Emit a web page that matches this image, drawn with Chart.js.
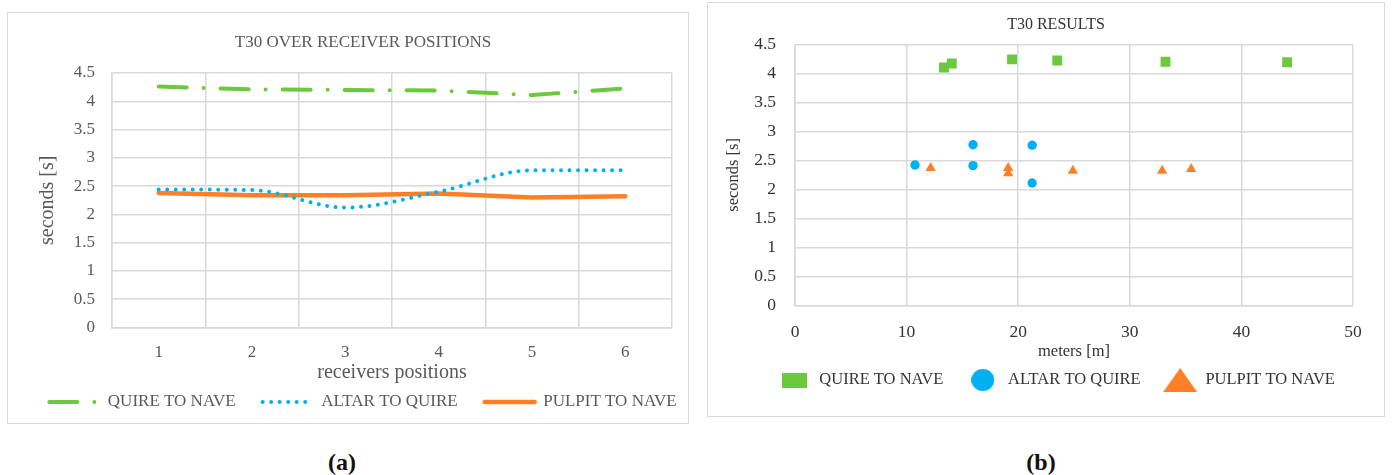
<!DOCTYPE html>
<html lang="en">
<head>
<meta charset="UTF-8">
<title>T30 over receiver positions / T30 results</title>
<script src="https://cdn.jsdelivr.net/npm/chart.js@4"></script>
<style>
  body { margin: 0; background: #fff; width: 1392px; height: 475px; position: relative; overflow: hidden; font-family: "Liberation Serif", serif; }
  .frame { position: absolute; border: 1.5px solid #d9d9d9; box-sizing: border-box; }
  canvas { position: absolute; }
  .cap { position: absolute; font-weight: bold; font-size: 24px; line-height: 28px; transform: translateX(-50%); color: #111; }
</style>
</head>
<body>
<div class="frame" style="left:7px;top:12px;width:682px;height:412px"></div>
<div class="frame" style="left:707px;top:2px;width:678px;height:415px"></div>
<canvas id="chartA" width="708" height="412" style="left:0px;top:12px"></canvas>
<canvas id="chartB" width="678" height="415" style="left:707px;top:2px"></canvas>
<div class="cap" style="left:342px;top:448px">(a)</div>
<div class="cap" style="left:1041px;top:448px">(b)</div>

<script>
  // (a) T30 per receiver position
  const positions = ['1', '2', '3', '4', '5', '6'];
  const quireToNave = [4.26, 4.21, 4.20, 4.19, 4.11, 4.23];
  const altarToQuire = [2.44, 2.43, 2.12, 2.40, 2.78, 2.78];
  const pulpitToNave = [2.38, 2.34, 2.34, 2.37, 2.30, 2.32];

  // (b) T30 against source-receiver distance
  const quireDist = [13.35, 14.05, 19.45, 23.5, 33.2, 44.1];
  const quireT30 = [4.10, 4.17, 4.24, 4.22, 4.20, 4.19];
  const altarDist = [10.75, 15.95, 15.95, 21.25, 21.25];
  const altarT30 = [2.42, 2.77, 2.41, 2.76, 2.11];
  const pulpitDist = [12.15, 19.1, 19.1, 24.9, 32.9, 35.5];
  const pulpitT30 = [2.37, 2.37, 2.28, 2.32, 2.32, 2.35];

  const seriesNames = ['QUIRE TO NAVE', 'ALTAR TO QUIRE', 'PULPIT TO NAVE'];

  const GREEN = '#6cc83c';
  const BLUE = '#00b0f0';
  const ORANGE = '#ff7f27';
  const GRID = '#d9d9d9';
  const FONT = "'Liberation Serif', 'Times New Roman', serif";

  Chart.defaults.font.family = FONT;

  function gridOpts() {
    return { color: GRID, lineWidth: 1.5, drawTicks: false };
  }

  // "4" not "4.0", like the original
  const plainNum = v => String(+Number(v).toFixed(1));

  // spacer axis on the right so the title/legend can be wider than the plot
  function spacer(w) {
    return {
      position: 'right',
      grid: { drawOnChartArea: false, drawTicks: false },
      border: { display: false },
      ticks: { display: false },
      afterFit: s => { s.width = w; }
    };
  }

  // ---------- chart (a) ----------
  new Chart(document.getElementById('chartA'), {
    type: 'line',
    data: {
      labels: positions,
      datasets: [
        {
          label: seriesNames[0],
          data: quireToNave,
          borderColor: GREEN,
          backgroundColor: GREEN,
          borderWidth: 4,
          borderDash: [28, 17, 0.01, 17],
          borderCapStyle: 'round',
          pointRadius: 0
        },
        {
          label: seriesNames[1],
          data: altarToQuire,
          borderColor: BLUE,
          backgroundColor: BLUE,
          borderWidth: 4,
          borderDash: [0.01, 8.5],
          borderCapStyle: 'round',
          cubicInterpolationMode: 'monotone',
          pointRadius: 0
        },
        {
          label: seriesNames[2],
          data: pulpitToNave,
          borderColor: ORANGE,
          backgroundColor: ORANGE,
          borderWidth: 4.5,
          borderCapStyle: 'round',
          pointRadius: 0
        }
      ]
    },
    options: {
      responsive: false,
      animation: false,
      events: [],
      layout: { padding: { left: 18, right: 0, top: 0, bottom: 3.5 } },
      plugins: {
        title: {
          display: true,
          text: 'T30 OVER RECEIVER POSITIONS',
          color: '#595959',
          font: { size: 17, weight: 'normal', lineHeight: 1.2 },
          padding: { top: 20.8, bottom: 19.8 }
        },
        legend: {
          position: 'bottom',
          labels: {
            usePointStyle: true,
            pointStyle: 'line',
            pointStyleWidth: 50,
            padding: 27,
            color: '#595959',
            font: { size: 17 },
            generateLabels(chart) {
              const items = Chart.defaults.plugins.legend.labels.generateLabels(chart);
              items.forEach((it, i) => {
                const ds = chart.data.datasets[i];
                it.lineDash = ds.borderDash || [];
                it.lineWidth = ds.borderWidth;
                it.lineCap = ds.borderCapStyle;
                it.strokeStyle = ds.borderColor;
              });
              return items;
            }
          }
        },
        tooltip: { enabled: false }
      },
      scales: {
        x: {
          offset: true,
          grid: Object.assign(gridOpts(), { offset: true }),
          border: { color: GRID, width: 1.5 },
          ticks: { color: '#595959', font: { size: 17 }, padding: 15 },
          title: {
            display: true,
            text: 'receivers positions',
            color: '#595959',
            font: { size: 20, lineHeight: 1 },
            padding: { top: 0, bottom: -16.5 }
          },
          afterFit: s => { s.height = 39; }
        },
        y: {
          min: 0,
          max: 4.5,
          grid: gridOpts(),
          border: { color: GRID, width: 1.5 },
          ticks: { stepSize: 0.5, color: '#595959', font: { size: 17 }, padding: 17, callback: plainNum },
          title: {
            display: true,
            text: 'seconds [s]',
            color: '#595959',
            font: { size: 20, lineHeight: 1 },
            padding: { top: 20, bottom: 0 }
          },
          afterFit: s => { s.width = 94; }
        },
        y2: spacer(36)
      }
    }
  });

  // ---------- chart (b) ----------
  function legendIcon(shape, color, w, h) {
    const c = document.createElement('canvas');
    c.width = w;
    c.height = h;
    const g = c.getContext('2d');
    g.fillStyle = color;
    g.beginPath();
    if (shape === 'rect') {
      g.rect(0, 0, w, h);
    } else if (shape === 'circle') {
      g.ellipse(w / 2, h / 2, w / 2, h / 2, 0, 0, Math.PI * 2);
    } else {
      g.moveTo(w / 2, 0);
      g.lineTo(w, h);
      g.lineTo(0, h);
      g.closePath();
    }
    g.fill();
    return c;
  }
  const icons = [
    legendIcon('rect', GREEN, 25, 15),
    legendIcon('circle', BLUE, 23, 22),
    legendIcon('triangle', ORANGE, 34, 24)
  ];

  const toPoints = (xs, ys) => xs.map((x, i) => ({ x: x, y: ys[i] }));

  new Chart(document.getElementById('chartB'), {
    type: 'scatter',
    data: {
      datasets: [
        {
          label: seriesNames[0],
          data: toPoints(quireDist, quireT30),
          pointStyle: 'rect',
          pointRadius: 7,
          backgroundColor: GREEN,
          borderColor: GREEN,
          borderWidth: 0
        },
        {
          label: seriesNames[1],
          data: toPoints(altarDist, altarT30),
          pointStyle: 'circle',
          pointRadius: 4.7,
          backgroundColor: BLUE,
          borderColor: BLUE,
          borderWidth: 0
        },
        {
          label: seriesNames[2],
          data: toPoints(pulpitDist, pulpitT30),
          pointStyle: 'triangle',
          pointRadius: 6,
          backgroundColor: ORANGE,
          borderColor: ORANGE,
          borderWidth: 0
        }
      ]
    },
    options: {
      responsive: false,
      animation: false,
      events: [],
      layout: { padding: { left: 29, right: 9, top: 0, bottom: 18.75 } },
      plugins: {
        title: {
          display: true,
          text: 'T30 RESULTS',
          color: '#333',
          font: { size: 16, weight: 'normal', lineHeight: 1.2 },
          padding: { top: 13.4, bottom: 9.7 }
        },
        legend: {
          position: 'bottom',
          labels: {
            usePointStyle: true,
            pointStyleWidth: 34,
            padding: 22.5,
            color: '#333',
            font: { size: 16.5 },
            generateLabels(chart) {
              const items = Chart.defaults.plugins.legend.labels.generateLabels(chart);
              items.forEach((it, i) => { it.pointStyle = icons[i]; });
              return items;
            }
          }
        },
        tooltip: { enabled: false }
      },
      scales: {
        x: {
          type: 'linear',
          min: 0,
          max: 50,
          grid: gridOpts(),
          border: { color: GRID, width: 1.5 },
          ticks: { stepSize: 10, color: '#333', font: { size: 17.5 }, padding: 16.3 },
          title: {
            display: true,
            text: 'meters [m]',
            color: '#333',
            font: { size: 16.5, lineHeight: 1 },
            padding: { top: 0, bottom: -11 }
          },
          afterFit: s => { s.height = 43.75; }
        },
        y: {
          min: 0,
          max: 4.5,
          grid: gridOpts(),
          border: { color: GRID, width: 1.5 },
          ticks: { stepSize: 0.5, color: '#333', font: { size: 17.5 }, padding: 19, callback: plainNum },
          title: {
            display: true,
            text: 'seconds [s]',
            color: '#333',
            font: { size: 16.5, lineHeight: 1 },
            padding: { top: -10.25, bottom: 0 }
          },
          afterFit: s => { s.width = 59; }
        },
        y2: spacer(23)
      }
    }
  });
</script>
</body>
</html>
